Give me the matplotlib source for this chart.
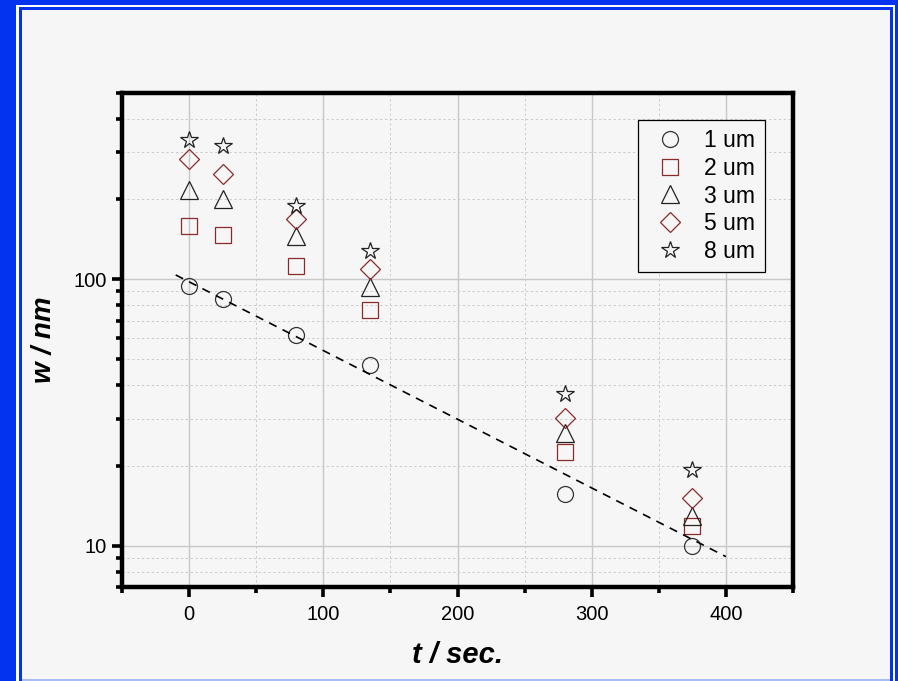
import matplotlib
matplotlib.use("Agg")
import matplotlib.pyplot as plt
from matplotlib.patches import Rectangle
from matplotlib.ticker import (LogLocator, MultipleLocator, NullFormatter,
                               FixedLocator, FuncFormatter)

plt.rcParams['font.family'] = ['Liberation Sans', 'DejaVu Sans']

# time points (s)
t = [0, 25, 80, 135, 280, 375]

# width w (nm) for each feature size
w_1um = [94.4, 84.4, 61.8, 47.7, 15.7, 10.0]
w_2um = [159, 147, 112, 77, 22.5, 11.9]
w_3um = [216, 200, 145, 93.6, 26.6, 12.9]
w_5um = [283, 248, 168, 109, 30.1, 15.1]
w_8um = [333, 316, 189, 128, 37.0, 19.2]

series_labels = ['1 um', '2 um', '3 um', '5 um', '8 um']

# exponential fit to the 1 um data (end points)
fit_t = [-10, 400]
fit_w = [103.8, 9.1]

W, H, DPI = 898, 681, 100
BG = '#f6f6f6'
BLUE = '#0433f0'

fig = plt.figure(figsize=(W / DPI, H / DPI), dpi=DPI, facecolor=BLUE)


def px_rect(x0, y0, x1, y1, color):
    """Rectangle in figure pixel coordinates (origin top-left)."""
    fig.add_artist(Rectangle((x0 / W, 1 - y1 / H), (x1 - x0) / W, (y1 - y0) / H,
                             transform=fig.transFigure, facecolor=color,
                             edgecolor='none', zorder=-10))


# page frame: thick blue, thin white, thin blue, then the light page
px_rect(16, 5, 895, 681, 'white')
px_rect(19, 7, 893, 681, BLUE)
px_rect(22, 10, 890, 679, BG)
px_rect(22, 679, 890, 681, '#a8bdf5')

ax = fig.add_axes([122 / W, 1 - 587 / H, (793 - 122) / W, (587 - 93) / H])
ax.set_facecolor(BG)

ax.set_yscale('log')
ax.set_xlim(-50, 450)
ax.set_ylim(7, 500)

ax.xaxis.set_major_locator(MultipleLocator(100))
ax.xaxis.set_minor_locator(FixedLocator([-50, 50, 150, 250, 350, 450]))
ax.yaxis.set_major_locator(LogLocator(base=10, numticks=10))
ax.yaxis.set_major_formatter(FuncFormatter(lambda v, p: f'{v:g}'))
ax.yaxis.set_minor_locator(LogLocator(base=10, subs=range(2, 10), numticks=20))
ax.yaxis.set_minor_formatter(NullFormatter())

ax.grid(True, which='major', color='#c8c8c8', linewidth=1.0, linestyle='-')
ax.grid(True, which='minor', color='#cccccc', linewidth=0.7, linestyle=(0, (2.5, 2.5)))
ax.set_axisbelow(True)

for sp in ax.spines.values():
    sp.set_linewidth(3.2)
    sp.set_color('black')

ax.tick_params(which='major', direction='out', length=7, width=2.6, labelsize=14.5,
               pad=6, colors='black')
ax.tick_params(which='minor', direction='out', length=4, width=2.6)
ax.tick_params(axis='y', which='major', pad=4)

mstyle = dict(linestyle='none', markerfacecolor='none', markeredgewidth=0.9)
ax.plot(t, w_1um, marker='o', markersize=11.5, markeredgecolor='#333333',
        label=series_labels[0], **mstyle)
ax.plot(t, w_2um, marker='s', markersize=11, markeredgecolor='#8b2a2a',
        label=series_labels[1], **mstyle)
ax.plot(t, w_3um, marker='^', markersize=13, markeredgecolor='#222222',
        label=series_labels[2], **mstyle)
ax.plot(t, w_5um, marker='D', markersize=10.5, markeredgecolor='#8b2a2a',
        label=series_labels[3], **mstyle)
ax.plot(t, w_8um, marker='*', markersize=13, markeredgecolor='#222222',
        label=series_labels[4], **mstyle)

ax.plot(fit_t, fit_w, color='black', linewidth=1.2, linestyle=(0, (5, 4)))

leg = ax.legend(loc='upper left', bbox_to_anchor=(0.769, 0.945), borderaxespad=0,
                fontsize=16.5, frameon=True, fancybox=False, framealpha=1,
                facecolor=BG, edgecolor='black', handletextpad=0.5,
                labelspacing=0.2, borderpad=0.4, handlelength=2.0,
                markerscale=1.0)
leg.get_frame().set_linewidth(0.9)

ax.set_xlabel('t / sec.', fontsize=21, fontweight='bold', fontstyle='italic', labelpad=12)
ax.set_ylabel('w / nm', fontsize=20, fontweight='bold', fontstyle='italic', labelpad=12)

fig.savefig('out.png', dpi=DPI, facecolor=fig.get_facecolor())
